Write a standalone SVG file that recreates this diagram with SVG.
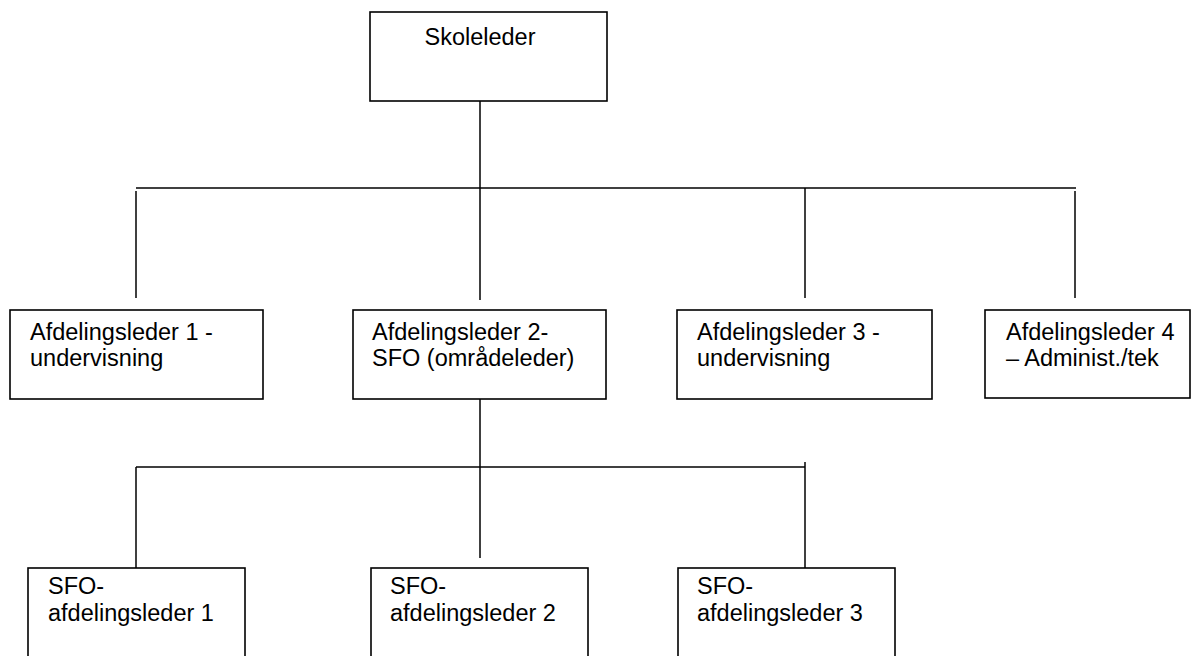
<svg xmlns="http://www.w3.org/2000/svg" width="1191" height="656" viewBox="0 0 1191 656">
<style>
.box{fill:#fff;stroke:#000;stroke-width:1.6}
.ln{stroke:#000;stroke-width:1.5;fill:none}
text{font-family:"Liberation Sans",Arial,sans-serif;font-size:23.5px;fill:#000}
</style>
<rect width="1191" height="656" fill="#fff"/>
<g id="connectors">
<line class="ln" x1="480" y1="101" x2="480" y2="300"/>
<line class="ln" x1="136" y1="188" x2="1076" y2="188"/>
<line class="ln" x1="136" y1="191" x2="136" y2="298"/>
<line class="ln" x1="805" y1="188" x2="805" y2="298"/>
<line class="ln" x1="1075" y1="191" x2="1075" y2="298"/>
<line class="ln" x1="480" y1="399" x2="480" y2="558"/>
<line class="ln" x1="136" y1="467" x2="805" y2="467"/>
<line class="ln" x1="136" y1="467" x2="136" y2="572"/>
<line class="ln" x1="805" y1="462" x2="805" y2="572"/>
</g>
<g id="skoleleder">
<rect class="box" x="370" y="12" width="237" height="89"/>
<text x="480" y="45" text-anchor="middle">Skoleleder</text>
</g>
<g id="afd1">
<rect class="box" x="10" y="310" width="253" height="89"/>
<text x="30" y="340">Afdelingsleder 1 -</text>
<text x="30" y="366">undervisning</text>
</g>
<g id="afd2">
<rect class="box" x="353" y="310" width="253" height="89"/>
<text x="372" y="340">Afdelingsleder 2-</text>
<text x="372" y="366">SFO (områdeleder)</text>
</g>
<g id="afd3">
<rect class="box" x="677" y="310" width="255" height="89"/>
<text x="697" y="340">Afdelingsleder 3 -</text>
<text x="697" y="366">undervisning</text>
</g>
<g id="afd4">
<rect class="box" x="985" y="310" width="205" height="88"/>
<text x="1006" y="340">Afdelingsleder 4</text>
<text x="1006" y="366">– Administ./tek</text>
</g>
<g id="sfo1">
<rect class="box" x="28" y="568" width="217" height="100"/>
<text x="48" y="594">SFO-</text>
<text x="48" y="621">afdelingsleder 1</text>
</g>
<g id="sfo2">
<rect class="box" x="371" y="568" width="217" height="100"/>
<text x="390" y="594">SFO-</text>
<text x="390" y="621">afdelingsleder 2</text>
</g>
<g id="sfo3">
<rect class="box" x="678" y="568" width="217" height="100"/>
<text x="697" y="594">SFO-</text>
<text x="697" y="621">afdelingsleder 3</text>
</g>
</svg>
